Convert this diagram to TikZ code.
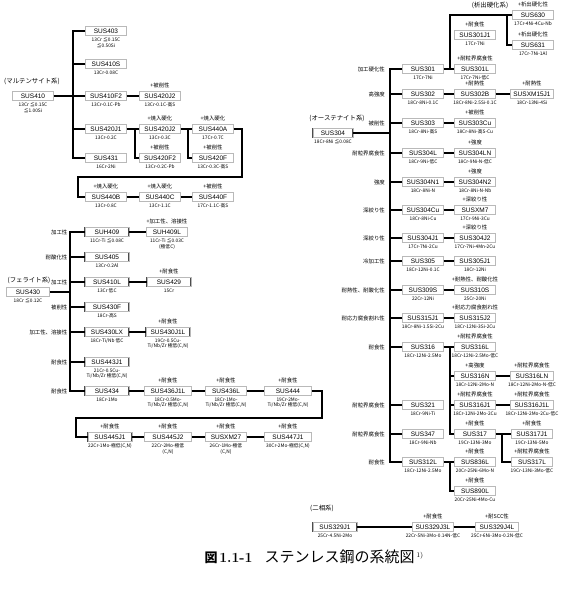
\documentclass[tikz,border=0pt]{standalone}
\usepackage{fontspec}
\newfontfamily\jpf{Noto Sans CJK JP}
\newfontfamily\arial{Liberation Sans}
\tikzset{
  sus/.style={draw=black!70, double=gray!55, double distance=0.9pt, line width=0.4pt, fill=white,
    minimum width=41pt, minimum height=9pt, inner sep=0pt, font=\arial\fontsize{6.5}{7}\selectfont},
  sub/.style={font=\jpf\fontsize{4.8}{5.6}\selectfont, align=center, inner sep=0.3pt, yshift=-1.6pt},
  add/.style={font=\jpf\fontsize{5.4}{6}\selectfont, inner sep=0.3pt, yshift=2.6pt},
  lft/.style={font=\jpf\fontsize{5.4}{6}\selectfont, inner sep=0.3pt, xshift=-17pt},
  grp/.style={font=\jpf\fontsize{6.4}{7}\selectfont, inner sep=0pt},
  ad/.style={label={[add]above:#1}},
  sb/.style={label={[sub]below:#1}},
  lf/.style={label={[lft]left:#1}},
  wd/.style={minimum width=#1},
  wire/.style={line width=1.35pt}
}
\begin{document}
\begin{tikzpicture}[x=1pt, y=-1pt]
\useasboundingbox (0,0) rectangle (564,590);

% martensite
\node[grp] (gmar) at (32,81) {(マルテンサイト系)};
\node[sus, sb={13Cr ≦0.15C\\≦1.00Si}] (m410) at (33,96) {SUS410};
\node[sus, sb={13Cr ≦0.15C\\≦0.50Si}] (m403) at (106,31) {SUS403};
\node[sus, sb={13Cr-0.08C}] (m410s) at (106,64) {SUS410S};
\node[sus, sb={13Cr-0.1C-Pb}] (m410f2) at (106,96) {SUS410F2};
\node[sus, ad={+被削性}, sb={13Cr-0.1C-高S}] (m420j2a) at (160,96) {SUS420J2};
\node[sus, sb={13Cr-0.2C}] (m420j1) at (106,129) {SUS420J1};
\node[sus, ad={+焼入硬化}, sb={13Cr-0.3C}] (m420j2b) at (160,129) {SUS420J2};
\node[sus, ad={+焼入硬化}, sb={17Cr-0.7C}] (m440a) at (213,129) {SUS440A};
\node[sus, sb={16Cr-2Ni}] (m431) at (106,158) {SUS431};
\node[sus, ad={+被削性}, sb={13Cr-0.2C-Pb}] (m420f2) at (160,158) {SUS420F2};
\node[sus, ad={+被削性}, sb={13Cr-0.3C-高S}] (m420f) at (213,158) {SUS420F};
\node[sus, ad={+焼入硬化}, sb={13Cr-0.8C}] (m440b) at (106,197) {SUS440B};
\node[sus, ad={+焼入硬化}, sb={13Cr-1.1C}] (m440c) at (160,197) {SUS440C};
\node[sus, ad={+被削性}, sb={17Cr-1.1C-高S}] (m440f) at (213,197) {SUS440F};

\coordinate (mv1) at (73,31);
\coordinate (mv2) at (73,158);
\draw[wire] (m403) -- (mv1) -- (mv2) -- (m431);
\draw[wire] (m410) -- (m410f2) -- (m420j2a);
\draw[wire] (m410s.west) -- (m410s.west -| mv1) (m420j1.west) -- (m420j1.west -| mv1);
\draw[wire] (m420j1) -- (m420j2b) -- (m440a);
\coordinate (mj1) at (135,129);
\coordinate (mj2) at (188,129);
\draw[wire] (mj1) |- (m420f2);
\draw[wire] (mj2) |- (m420f);
\coordinate (mr1) at (242,129);
\coordinate (mr2) at (78,177);
\draw[wire] (m440a) -- (mr1) |- (mr2) |- (m440b);
\draw[wire] (m440b) -- (m440c) -- (m440f);

% ferrite
\node[grp] (gfer) at (29,280) {(フェライト系)};
\node[sus, wd=43pt, sb={18Cr ≦0.12C}] (f430) at (28,292) {SUS430};
\node[sus, wd=44pt, lf={加工性}, sb={11Cr-Ti ≦0.08C}] (f409) at (107,232) {SUH409};
\node[sus, ad={+加工性、溶接性}, sb={11Cr-Ti ≦0.03C\\(極低C)}] (f409l) at (167,232) {SUH409L};
\node[sus, wd=44pt, lf={耐酸化性}, sb={13Cr-0.2Al}] (f405) at (107,257) {SUS405};
\node[sus, wd=44pt, lf={加工性}, sb={13Cr 低C}] (f410l) at (107,282) {SUS410L};
\node[sus, wd=44pt, ad={+耐食性}, sb={15Cr}] (f429) at (169,282) {SUS429};
\node[sus, wd=44pt, lf={被削性}, sb={18Cr-高S}] (f430f) at (107,307) {SUS430F};
\node[sus, wd=44pt, lf={加工性、溶接性}, sb={18Cr-Ti/Nb 低C}] (f430lx) at (107,332) {SUS430LX};
\node[sus, wd=44pt, ad={+耐食性}, sb={19Cr-0.5Cu-\\Ti/Nb/Zr 極低(C,N)}] (f430j1l) at (168,332) {SUS430J1L};
\node[sus, wd=44pt, lf={耐食性}, sb={21Cr-0.5Cu-\\Ti/Nb/Zr 極低(C,N)}] (f443j1) at (107,362) {SUS443J1};
\node[sus, wd=44pt, lf={耐食性}, sb={18Cr-1Mo}] (f434) at (107,391) {SUS434};
\node[sus, wd=47pt, ad={+耐食性}, sb={18Cr-0.5Mo-\\Ti/Nb/Zr 極低(C,N)}] (f436j1l) at (168,391) {SUS436J1L};
\node[sus, ad={+耐食性}, sb={18Cr-1Mo-\\Ti/Nb/Zr 極低(C,N)}] (f436l) at (226,391) {SUS436L};
\node[sus, wd=47pt, ad={+耐食性}, sb={19Cr-2Mo-\\Ti/Nb/Zr 極低(C,N)}] (f444) at (288,391) {SUS444};
\node[sus, wd=44pt, ad={+耐食性}, sb={22Cr-1Mo-極低(C,N)}] (f445j1) at (110,437) {SUS445J1};
\node[sus, wd=47pt, ad={+耐食性}, sb={22Cr-2Mo-極低\\(C,N)}] (f445j2) at (168,437) {SUS445J2};
\node[sus, ad={+耐食性}, sb={26Cr-1Mo-極低\\(C,N)}] (fxm27) at (226,437) {SUSXM27};
\node[sus, wd=47pt, ad={+耐食性}, sb={30Cr-2Mo-極低(C,N)}] (f447j1) at (288,437) {SUS447J1};

\coordinate (fv1) at (70,232);
\coordinate (fv2) at (70,391);
\draw[wire] (f409) -- (fv1) -- (fv2) -- (f434);
\draw[wire] (f430) -- (f430 -| fv1);
\draw[wire] (f405.west) -- (f405.west -| fv1) (f410l.west) -- (f410l.west -| fv1)
  (f430f.west) -- (f430f.west -| fv1) (f430lx.west) -- (f430lx.west -| fv1)
  (f443j1.west) -- (f443j1.west -| fv1);
\draw[wire] (f409) -- (f409l);
\draw[wire] (f410l) -- (f429);
\draw[wire] (f430lx) -- (f430j1l);
\draw[wire] (f434) -- (f436j1l) -- (f436l) -- (f444);
\coordinate (fr1) at (322,391);
\coordinate (fr2) at (76,418);
\draw[wire] (f444) -- (fr1) |- (fr2) |- (f445j1);
\draw[wire] (f445j1) -- (f445j2) -- (fxm27) -- (f447j1);

% austenite
\node[grp] (gaus) at (337,118) {(オーステナイト系)};
\node[sus, wd=40pt, sb={18Cr-8Ni ≦0.08C}] (a304) at (333,133) {SUS304};
\node[grp] (gpre) at (490,5) {(析出硬化系)};
\node[sus, ad={+析出硬化性}, sb={17Cr-4Ni-4Cu-Nb}] (a630) at (533,15) {SUS630};
\node[sus, ad={+析出硬化性}, sb={17Cr-7Ni-1Al}] (a631) at (533,45) {SUS631};
\node[sus, ad={+耐食性}, sb={17Cr-7Ni}] (a301j1) at (475,35) {SUS301J1};
\node[sus, lf={加工硬化性}, sb={17Cr-7Ni}] (a301) at (423,69) {SUS301};
\node[sus, ad={+耐粒界腐食性}, sb={17Cr-7Ni-低C}] (a301l) at (475,69) {SUS301L};
\node[sus, lf={高強度}, sb={18Cr-8Ni-0.1C}] (a302) at (423,94) {SUS302};
\node[sus, ad={+耐熱性}, sb={18Cr-8Ni-2.5Si-0.1C}] (a302b) at (475,94) {SUS302B};
\node[sus, wd=43pt, ad={+耐熱性}, sb={18Cr-13Ni-4Si}] (axm15j1) at (532,94) {SUSXM15J1};
\node[sus, lf={被削性}, sb={18Cr-8Ni-高S}] (a303) at (423,123) {SUS303};
\node[sus, ad={+被削性}, sb={18Cr-8Ni-高S-Cu}] (a303cu) at (475,123) {SUS303Cu};
\node[sus, lf={耐粒界腐食性}, sb={18Cr-9Ni-低C}] (a304l) at (423,153) {SUS304L};
\node[sus, ad={+強度}, sb={18Cr-9Ni-N-低C}] (a304ln) at (475,153) {SUS304LN};
\node[sus, lf={強度}, sb={18Cr-8Ni-N}] (a304n1) at (423,182) {SUS304N1};
\node[sus, ad={+強度}, sb={18Cr-8Ni-N-Nb}] (a304n2) at (475,182) {SUS304N2};
\node[sus, lf={深絞り性}, sb={18Cr-8Ni-Cu}] (a304cu) at (423,210) {SUS304Cu};
\node[sus, ad={+深絞り性}, sb={17Cr-9Ni-3Cu}] (axm7) at (475,210) {SUSXM7};
\node[sus, lf={深絞り性}, sb={17Cr-7Ni-2Cu}] (a304j1) at (423,238) {SUS304J1};
\node[sus, ad={+深絞り性}, sb={17Cr-7Ni-4Mn-2Cu}] (a304j2) at (475,238) {SUS304J2};
\node[sus, lf={冷加工性}, sb={18Cr-12Ni-0.1C}] (a305) at (423,261) {SUS305};
\node[sus, sb={18Cr-12Ni}] (a305j1) at (475,261) {SUS305J1};
\node[sus, lf={耐熱性、耐酸化性}, sb={22Cr-12Ni}] (a309s) at (423,290) {SUS309S};
\node[sus, ad={+耐熱性、耐酸化性}, sb={25Cr-20Ni}] (a310s) at (475,290) {SUS310S};
\node[sus, lf={耐応力腐食割れ性}, sb={18Cr-8Ni-1.5Si-2Cu}] (a315j1) at (423,318) {SUS315J1};
\node[sus, ad={+耐応力腐食割れ性}, sb={18Cr-12Ni-3Si-2Cu}] (a315j2) at (475,318) {SUS315J2};
\node[sus, lf={耐食性}, sb={18Cr-12Ni-2.5Mo}] (a316) at (423,347) {SUS316};
\node[sus, ad={+耐粒界腐食性}, sb={18Cr-12Ni-2.5Mo-低C}] (a316l) at (475,347) {SUS316L};
\node[sus, ad={+高強度}, sb={18Cr-12Ni-2Mo-N}] (a316n) at (475,376) {SUS316N};
\node[sus, wd=43pt, ad={+耐粒界腐食性}, sb={18Cr-12Ni-2Mo-N-低C}] (a316ln) at (532,376) {SUS316LN};
\node[sus, lf={耐粒界腐食性}, sb={18Cr-9Ni-Ti}] (a321) at (423,405) {SUS321};
\node[sus, ad={+耐粒界腐食性}, sb={18Cr-12Ni-2Mo-2Cu}] (a316j1) at (475,405) {SUS316J1};
\node[sus, wd=43pt, ad={+耐粒界腐食性}, sb={18Cr-12Ni-2Mo-2Cu-低C}] (a316j1l) at (532,405) {SUS316J1L};
\node[sus, lf={耐粒界腐食性}, sb={18Cr-9Ni-Nb}] (a347) at (423,434) {SUS347};
\node[sus, ad={+耐食性}, sb={19Cr-13Ni-3Mo}] (a317) at (475,434) {SUS317};
\node[sus, ad={+耐食性}, sb={19Cr-13Ni-5Mo}] (a317j1) at (532,434) {SUS317J1};
\node[sus, ad={+耐粒界腐食性}, sb={19Cr-13Ni-3Mo-低C}] (a317l) at (532,462) {SUS317L};
\node[sus, lf={耐食性}, sb={18Cr-12Ni-2.5Mo}] (a312l) at (423,462) {SUS312L};
\node[sus, ad={+耐食性}, sb={20Cr-25Ni-6Mo-N}] (a836l) at (475,462) {SUS836L};
\node[sus, ad={+耐食性}, sb={20Cr-25Ni-4Mo-Cu}] (a890l) at (475,491) {SUS890L};

\coordinate (av1) at (390,69);
\coordinate (av2) at (390,462);
\draw[wire] (a301) -- (av1) -- (av2) -- (a312l);
\draw[wire] (a304) -- (a304 -| av1);
\draw[wire] (a302.west) -- (a302.west -| av1) (a303.west) -- (a303.west -| av1)
  (a304l.west) -- (a304l.west -| av1) (a304n1.west) -- (a304n1.west -| av1)
  (a304cu.west) -- (a304cu.west -| av1) (a304j1.west) -- (a304j1.west -| av1)
  (a305.west) -- (a305.west -| av1) (a309s.west) -- (a309s.west -| av1)
  (a315j1.west) -- (a315j1.west -| av1) (a316.west) -- (a316.west -| av1)
  (a321.west) -- (a321.west -| av1) (a347.west) -- (a347.west -| av1);
\draw[wire] (a301) -- (a301l);
\draw[wire] (a302) -- (a302b) -- (axm15j1);
\draw[wire] (a303) -- (a303cu);
\draw[wire] (a304l) -- (a304ln);
\draw[wire] (a304n1) -- (a304n2);
\draw[wire] (a304cu) -- (axm7);
\draw[wire] (a304j1) -- (a304j2);
\draw[wire] (a305) -- (a305j1);
\draw[wire] (a309s) -- (a310s);
\draw[wire] (a315j1) -- (a315j2);
\draw[wire] (a316) -- (a316l);
\draw[wire] (a312l) -- (a836l);
\coordinate (ap1) at (450,69);
\coordinate (ap2) at (450,15);
\coordinate (ap3) at (507,15);
\draw[wire] (ap1) -- (ap2) -- (a630);
\draw[wire] (ap3) |- (a631);
\coordinate (ab1) at (450,347);
\coordinate (ab2) at (450,434);
\coordinate (ab3) at (502,434);
\coordinate (ab4) at (450,462);
\draw[wire] (ab1) -- (ab2) -- (a317);
\draw[wire] (a316n.west) -- (a316n.west -| ab1) (a316j1.west) -- (a316j1.west -| ab1);
\draw[wire] (a316n) -- (a316ln);
\draw[wire] (a316j1) -- (a316j1l);
\draw[wire] (a317) -- (a317j1);
\draw[wire] (ab3) |- (a317l);
\draw[wire] (ab4) |- (a890l);

% duplex
\node[grp] (gdup) at (322,508) {(二相系)};
\node[sus, wd=44pt, sb={25Cr-4.5Ni-2Mo}] (d329j1) at (335,527) {SUS329J1};
\node[sus, ad={+耐食性}, sb={22Cr-5Ni-3Mo-0.14N-低C}] (d329j3l) at (433,527) {SUS329J3L};
\node[sus, wd=43pt, ad={+耐SCC性}, sb={25Cr-6Ni-3Mo-0.2N-低C}] (d329j4l) at (497,527) {SUS329J4L};
\draw[wire] (d329j1) -- (d329j3l) -- (d329j4l);

% caption
\node[inner sep=0pt] (cap) at (314,557) {{\jpf\bfseries\fontsize{13}{15}\selectfont 図}\,{\bfseries\fontsize{14}{16}\selectfont 1.1-1}\hspace{12pt}{\jpf\fontsize{15}{16}\selectfont ステンレス鋼の系統図}\,\raisebox{5pt}{\fontsize{7}{8}\selectfont 1)}};
\end{tikzpicture}
\end{document}
